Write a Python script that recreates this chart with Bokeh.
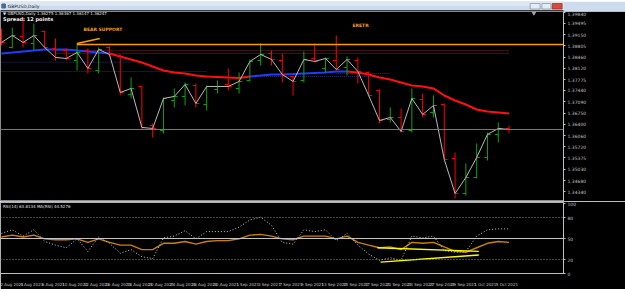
import numpy as np
from bokeh.plotting import figure
from bokeh.layouts import column
from bokeh.models import Range1d, FixedTicker, Span, Label, PrintfTickFormatter
from bokeh.embed import file_html
from bokeh.resources import INLINE
from bokeh.core.properties import value

# ---------------- data ----------------
symbol = "GBPUSD,Daily"
dates = ["2 Aug 2021", "3 Aug 2021", "4 Aug 2021", "5 Aug 2021", "6 Aug 2021", "9 Aug 2021",
         "10 Aug 2021", "11 Aug 2021", "12 Aug 2021", "13 Aug 2021", "16 Aug 2021", "17 Aug 2021",
         "18 Aug 2021", "19 Aug 2021", "20 Aug 2021", "23 Aug 2021", "24 Aug 2021", "25 Aug 2021",
         "26 Aug 2021", "27 Aug 2021", "30 Aug 2021", "31 Aug 2021", "1 Sep 2021", "2 Sep 2021",
         "3 Sep 2021", "6 Sep 2021", "7 Sep 2021", "8 Sep 2021", "9 Sep 2021", "10 Sep 2021",
         "13 Sep 2021", "14 Sep 2021", "15 Sep 2021", "16 Sep 2021", "17 Sep 2021", "20 Sep 2021",
         "21 Sep 2021", "22 Sep 2021", "23 Sep 2021", "24 Sep 2021", "27 Sep 2021", "28 Sep 2021",
         "29 Sep 2021", "30 Sep 2021", "1 Oct 2021", "4 Oct 2021", "5 Oct 2021", "6 Oct 2021"]

opens = [1.39093, 1.38756, 1.39093, 1.38879, 1.39246, 1.38726, 1.38664, 1.38358, 1.38664, 1.38052,
         1.38756, 1.38511, 1.37318, 1.37563, 1.36369, 1.36216, 1.37134, 1.37257, 1.37593, 1.37012,
         1.37471, 1.37624, 1.37502, 1.37746, 1.38358, 1.38573, 1.38358, 1.37869, 1.37746, 1.38420,
         1.38114, 1.38358, 1.38144, 1.38358, 1.37991, 1.37440, 1.36553, 1.36614, 1.36216, 1.37165,
         1.36767, 1.37012, 1.35359, 1.34289, 1.34778, 1.35390, 1.36094, 1.36275]
highs = [1.39338, 1.39368, 1.39674, 1.39490, 1.39276, 1.39032, 1.38726, 1.38879, 1.38726, 1.38756,
         1.38787, 1.38542, 1.37838, 1.37593, 1.36431, 1.37226, 1.37502, 1.37685, 1.37655, 1.37593,
         1.37746, 1.38114, 1.37991, 1.38389, 1.38879, 1.38664, 1.38573, 1.37899, 1.38634, 1.38879,
         1.38450, 1.39123, 1.38481, 1.38450, 1.38022, 1.37471, 1.36920, 1.36890, 1.37502, 1.37349,
         1.37287, 1.37043, 1.35543, 1.35207, 1.35819, 1.36155, 1.36461, 1.36367]
lows = [1.38817, 1.38726, 1.38756, 1.38664, 1.38726, 1.38358, 1.38358, 1.38052, 1.37961, 1.37961,
        1.38481, 1.37287, 1.37196, 1.36247, 1.36002, 1.36125, 1.36920, 1.36981, 1.36920, 1.36828,
        1.37349, 1.37440, 1.37349, 1.37716, 1.38205, 1.38205, 1.37685, 1.37287, 1.37685, 1.38297,
        1.37991, 1.38052, 1.37899, 1.37655, 1.37257, 1.36431, 1.36461, 1.36155, 1.36155, 1.36614,
        1.36614, 1.35298, 1.34135, 1.34227, 1.34747, 1.35298, 1.35849, 1.36147]
closes = [1.38909, 1.39123, 1.38909, 1.39123, 1.38756, 1.38450, 1.38420, 1.38603, 1.38114, 1.38695,
          1.38542, 1.37379, 1.37502, 1.36308, 1.36278, 1.37196, 1.37257, 1.37624, 1.37043, 1.37563,
          1.37563, 1.37563, 1.37716, 1.38328, 1.38542, 1.38389, 1.37930, 1.37716, 1.38389, 1.38328,
          1.38420, 1.38083, 1.38389, 1.38022, 1.37287, 1.36522, 1.36614, 1.36186, 1.37196, 1.36706,
          1.36981, 1.35329, 1.34289, 1.34778, 1.35390, 1.36094, 1.36278, 1.36247]

ma_values = [1.38573, 1.38603, 1.38634, 1.38664, 1.38695, 1.38695, 1.38695, 1.38664, 1.38634, 1.38603,
             1.38573, 1.38481, 1.38389, 1.38297, 1.38174, 1.38052, 1.37991, 1.37961, 1.37899, 1.37869,
             1.37854, 1.37838, 1.37823, 1.37869, 1.37899, 1.37930, 1.37930, 1.37945, 1.37961, 1.37976,
             1.37991, 1.38022, 1.38022, 1.37991, 1.37930, 1.37838, 1.37777, 1.37685, 1.37593, 1.37563,
             1.37502, 1.37287, 1.37134, 1.37012, 1.36859, 1.36797, 1.36767, 1.36736]
ma_blue_segments = [(0, 10), (23, 32)]
ma_red_segments = [(10, 23), (32, 47)]

rsi_values = [57.3, 62.5, 53.5, 62.5, 45.8, 40.6, 36.8, 49.6, 31.6, 52.2, 43.2, 29.0, 34.2, 23.9, 21.3,
              50.9, 53.5, 61.2, 49.6, 59.9, 59.9, 59.9, 66.3, 76.6, 80.5, 68.9, 44.5, 41.9, 62.5, 59.9,
              62.5, 47.0, 57.3, 40.6, 27.8, 18.8, 22.6, 18.8, 53.5, 50.9, 53.5, 32.9, 30.3, 31.6, 53.5,
              62.5, 63.8, 63.8]
rsi_ma_values = [52.2, 54.8, 52.2, 54.8, 49.6, 48.3, 48.3, 49.6, 44.5, 49.6, 44.5, 40.6, 40.6, 34.2, 34.2,
                 43.2, 43.2, 45.8, 41.9, 45.8, 47.0, 47.0, 49.6, 54.8, 56.0, 53.5, 49.6, 48.3, 53.5, 53.5,
                 53.5, 49.6, 53.5, 44.5, 40.6, 36.8, 38.0, 34.2, 44.5, 43.2, 44.5, 38.0, 31.6, 30.3, 36.8,
                 43.2, 45.8, 44.5]
rsi_levels = [80, 50, 20]

price_ticks = [1.39840, 1.39495, 1.39150, 1.38805, 1.38460, 1.38120, 1.37775, 1.37440, 1.37090,
               1.36750, 1.36400, 1.36060, 1.35720, 1.35375, 1.35030, 1.34680, 1.34340]
rsi_ticks = [0, 20, 50, 80, 100]

# chart objects (drawn lines)
support_price = 1.38848
support_from, support_to = 7, 52.3
slant_x = [7, 9.1]
slant_y = [1.38879, 1.39032]
dotted_red_prices = [1.38664, 1.38573]
dotted_red_span = (5, 47)
dotted_blue = [(1.38306, 0, 12), (1.38022, 0, 19), (1.37869, 23, 35), (1.37961, 31, 36)]
wedge_upper = ([34.8, 44.2], [36.8, 31.6])
wedge_lower = ([35.1, 44.2], [16.2, 26.5])

current_price = closes[-1]
header_text = "\u25BC GBPUSD,Daily  1.36275 1.36367 1.36147 1.36247"
spread_text = "Spread: 12 points"
rsi_header = "RSI(14) 63.8134   MA(RSI) 44.5276"

FONT = "DejaVu Sans"
AX = "#c0c0c0"
GREEN = "#12a012"
RED = "#ff0000"

n = len(closes)
idx = np.arange(n)
xr = Range1d(-0.09, 52.04)

# ---------------- title bar ----------------
tb = figure(width=625, height=11, x_range=Range1d(0, 625), y_range=Range1d(11, 0),
            output_backend="svg", toolbar_location=None, x_axis_location=None, y_axis_location=None,
            min_border=0, outline_line_color=None, background_fill_color="#cddbee",
            border_fill_color="#cddbee")
tb.grid.visible = False
tb.quad(left=[0], right=[625], top=[0], bottom=[4], color="#dde7f4")
tb.quad(left=[0], right=[625], top=[9], bottom=[11], color="#3a3a3a")
tb.quad(left=[1.5], right=[5.5], top=[2.5], bottom=[6.5], color="#4a6a9a")
tb.text(x=[8], y=[4.6], text=[symbol], text_font=value(FONT), text_font_size="4.5px",
        text_color="#1a1a1a", text_baseline="middle")
tb.quad(left=[588, 601], right=[599, 611], top=[2, 2], bottom=[7.5, 7.5],
        fill_color="#e4ebf5", line_color="#8090a8", line_width=0.7)
tb.quad(left=[612.5], right=[623.5], top=[2], bottom=[7.5], fill_color="#d44b3c",
        line_color="#8a2a20", line_width=0.7)

# ---------------- main chart ----------------
p = figure(width=625, height=190, x_range=xr, y_range=Range1d(1.34043, 1.39857),
           output_backend="svg", toolbar_location=None, x_axis_location=None,
           y_axis_location="right", min_border_left=0, min_border_right=62, min_border_top=0,
           min_border_bottom=0, background_fill_color="black", border_fill_color="black",
           outline_line_color="#8a8a8a")
p.grid.visible = False
ya = p.yaxis[0]
ya.ticker = FixedTicker(ticks=price_ticks)
ya.formatter = PrintfTickFormatter(format="%.5f")
ya.axis_line_color = AX
ya.major_tick_line_color = AX
ya.major_tick_out = 2
ya.major_tick_in = 0
ya.minor_tick_line_color = None
ya.major_label_text_color = AX
ya.major_label_text_font = FONT
ya.major_label_text_font_size = "4.5px"
ya.major_label_standoff = 2

for pr in dotted_red_prices:
    p.line([dotted_red_span[0], dotted_red_span[1]], [pr, pr], line_color="#7a2626",
           line_dash="1 1", line_width=1.2)
for pr, a, b in dotted_blue:
    p.line([a, b], [pr, pr], line_color="#26306e", line_dash="1 1", line_width=1)

p.add_layout(Span(location=current_price, dimension="width", line_color="#7a7a7a", line_width=1))

for a, b in ma_blue_segments:
    p.line(idx[a:b + 1], ma_values[a:b + 1], line_color="#1f3cff", line_width=2)
for a, b in ma_red_segments:
    p.line(idx[a:b + 1], ma_values[a:b + 1], line_color="#ff1010", line_width=2)

cols = [GREEN if cc >= oo else RED for oo, cc in zip(opens, closes)]
p.segment(idx, highs, idx, lows, line_color=cols, line_width=1)
p.segment(idx - 0.3, opens, idx, opens, line_color=cols, line_width=1)
p.segment(idx, closes, idx + 0.3, closes, line_color=cols, line_width=1)
p.line(idx, closes, line_color="#b8b8b8", line_width=1)

p.line([support_from, support_to], [support_price, support_price], line_color="#ff9a00", line_width=1.6)
p.line(slant_x, slant_y, line_color="#ff9a00", line_width=1.6)
p.text(x=[7.6], y=[1.39307], text=["BEAR SUPPORT"], text_font=value(FONT), text_font_size="4.5px",
       text_font_style="bold", text_color="#f0a020", text_baseline="middle")
p.text(x=[32.5], y=[1.39429], text=["ERETR"], text_font=value(FONT), text_font_size="4.5px",
       text_font_style="bold", text_color="#f0a020", text_baseline="middle")

p.text(x=[0.15], y=[1.39790], text=[header_text], text_font=value(FONT), text_font_size="4px",
       text_color="#e8e8e8", text_baseline="middle")
p.text(x=[0.15], y=[1.39640], text=[spread_text], text_font=value(FONT), text_font_size="5px",
       text_font_style="bold", text_color="#f4f4f4", text_baseline="middle")
p.scatter(x=[49.3], y=[1.39815], marker="inverted_triangle", size=4, color="#a0a0a0")

p.add_layout(Label(x=52.2, y=current_price, text=f"{current_price:.5f}", text_font=FONT,
                   text_font_size="4.5px", text_color="black", background_fill_color="#f0f0f0",
                   text_baseline="middle"))

# ---------------- RSI window ----------------
r = figure(width=625, height=88, x_range=xr, y_range=Range1d(0, 101.5),
           output_backend="svg", toolbar_location=None, x_axis_location="below",
           y_axis_location="right", min_border_left=0, min_border_right=62, min_border_top=1,
           min_border_bottom=8, background_fill_color="black", border_fill_color="black",
           outline_line_color="#b0b0b0")
r.grid.visible = False
for lv in rsi_levels:
    if lv == 50:
        r.add_layout(Span(location=lv, dimension="width", line_color="#c8c8c8", line_width=1))
    else:
        r.add_layout(Span(location=lv, dimension="width", line_color="#8a8a8a", line_width=1,
                          line_dash="1 2"))
r.line(idx, rsi_ma_values, line_color="#c8820a", line_width=1.4)
r.line(idx, rsi_values, line_color="#c8c8c8", line_width=1, line_dash="1 2")
r.line(wedge_upper[0], wedge_upper[1], line_color="#ffff00", line_width=1.4)
r.line(wedge_lower[0], wedge_lower[1], line_color="#ffff00", line_width=1.4)
r.text(x=[0.15], y=[96], text=[rsi_header], text_font=value(FONT), text_font_size="4px",
       text_color="#e0e0e0", text_baseline="middle")

ry = r.yaxis[0]
ry.ticker = FixedTicker(ticks=rsi_ticks)
ry.axis_line_color = AX
ry.major_tick_line_color = AX
ry.major_tick_out = 2
ry.major_tick_in = 0
ry.minor_tick_line_color = None
ry.major_label_text_color = AX
ry.major_label_text_font = FONT
ry.major_label_text_font_size = "4.5px"
ry.major_label_standoff = 2

label_idx = list(range(0, n - 1, 2))
shift = 0.8
ticks = [round(i + shift, 2) for i in label_idx]
rx = r.xaxis[0]
rx.ticker = FixedTicker(ticks=ticks)
rx.major_label_overrides = {t: dates[i] for t, i in zip(ticks, label_idx)}
rx.axis_line_color = AX
rx.major_tick_line_color = None
rx.minor_tick_line_color = None
rx.major_label_text_color = AX
rx.major_label_text_font = FONT
rx.major_label_text_font_size = "4px"
rx.major_label_standoff = 2

# ---------------- bottom strip ----------------
bs = figure(width=625, height=3, x_range=Range1d(0, 1), y_range=Range1d(0, 1),
            output_backend="svg", toolbar_location=None, x_axis_location=None, y_axis_location=None,
            min_border=0, outline_line_color=None, background_fill_color="#c9d3e0",
            border_fill_color="#c9d3e0")
bs.grid.visible = False

layout = column(tb, p, r, bs, spacing=0)
open("out.html", "w").write(file_html(layout, INLINE))
